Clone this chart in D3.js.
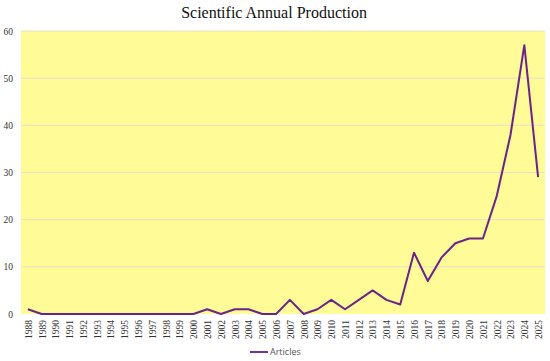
<!DOCTYPE html>
<html>
<head>
<meta charset="utf-8">
<script src="https://cdn.jsdelivr.net/npm/d3@7"></script>
<style>
  body { margin: 0; background: #fff; }
  #chart { width: 550px; height: 361px; }
</style>
</head>
<body>
<div id="chart"></div>
<script>
(function() {

  var years = [1988, 1989, 1990, 1991, 1992, 1993, 1994, 1995, 1996, 1997, 1998, 1999,
               2000, 2001, 2002, 2003, 2004, 2005, 2006, 2007, 2008, 2009, 2010, 2011,
               2012, 2013, 2014, 2015, 2016, 2017, 2018, 2019, 2020, 2021, 2022, 2023,
               2024, 2025];
  var articles = [1, 0, 0, 0, 0, 0, 0, 0, 0, 0, 0, 0,
                  0, 1, 0, 1, 1, 0, 0, 3, 0, 1, 3, 1,
                  3, 5, 3, 2, 13, 7, 12, 15, 16, 16, 25, 38,
                  57, 29];
  var yTicks = [0, 10, 20, 30, 40, 50, 60];

  var width = 550;
  var height = 361;
  var left = 21, right = 545, top = 31, bottom = 314;

  var dataset = years.map(function(y, i) { return [y, articles[i]]; });

  var xScale = d3.scalePoint()
    .domain(years)
    .range([left, right])
    .padding(0.5);

  var yScale = d3.scaleLinear()
    .domain([0, 60])
    .range([bottom, top]);

  var svg = d3.select('#chart')
    .append('svg')
    .attr('width', width)
    .attr('height', height);

  svg.append('rect')
    .attr('x', left)
    .attr('y', top)
    .attr('width', right - left)
    .attr('height', bottom - top)
    .attr('fill', '#fffb97');

  // gridlines
  svg.append('g')
    .selectAll('line')
    .data(yTicks.slice(1))
    .enter()
    .append('line')
    .attr('x1', left)
    .attr('x2', right)
    .attr('y1', function(d) { return yScale(d); })
    .attr('y2', function(d) { return yScale(d); })
    .attr('stroke', '#e6e0c8')
    .attr('stroke-width', 1);

  svg.append('text')
    .attr('x', 274)
    .attr('y', 18)
    .attr('text-anchor', 'middle')
    .style('font-family', 'Liberation Serif, serif')
    .style('font-size', '16px')
    .attr('fill', '#111')
    .text('Scientific Annual Production');

  var yAxis = d3.axisLeft(yScale).tickValues(yTicks).tickSize(0).tickPadding(8);
  svg.append('g')
    .attr('transform', 'translate(' + left + ', 0)')
    .call(yAxis)
    .call(function(g) { g.select('.domain').remove(); })
    .selectAll('.tick>text')
    .style('font-family', 'Liberation Serif, serif')
    .style('font-size', '9.5px')
    .attr('fill', '#333');

  var xAxis = d3.axisBottom(xScale).tickSize(0);
  svg.append('g')
    .attr('transform', 'translate(0, ' + bottom + ')')
    .call(xAxis)
    .call(function(g) { g.select('.domain').remove(); })
    .selectAll('.tick>text')
    .attr('transform', 'rotate(-90)')
    .attr('text-anchor', 'end')
    .attr('x', -6)
    .attr('y', 0)
    .attr('dy', '0.35em')
    .style('font-family', 'Liberation Serif, serif')
    .style('font-size', '9.5px')
    .attr('fill', '#333');

  var line = d3.line()
    .x(function(d) { return xScale(d[0]); })
    .y(function(d) { return yScale(d[1]); });

  svg.append('path')
    .datum(dataset)
    .attr('d', line)
    .attr('fill', 'none')
    .attr('stroke', '#6b2388')
    .attr('stroke-width', 2)
    .attr('stroke-linejoin', 'round');

  // legend
  svg.append('line')
    .attr('x1', 250).attr('x2', 268)
    .attr('y1', 352).attr('y2', 352)
    .attr('stroke', '#7030a0')
    .attr('stroke-width', 2);
  svg.append('text')
    .attr('x', 270)
    .attr('y', 355)
    .style('font-family', 'Open Sans, sans-serif')
    .style('font-size', '9px')
    .attr('fill', '#555')
    .text('Articles');

})();
</script>
</body>
</html>
